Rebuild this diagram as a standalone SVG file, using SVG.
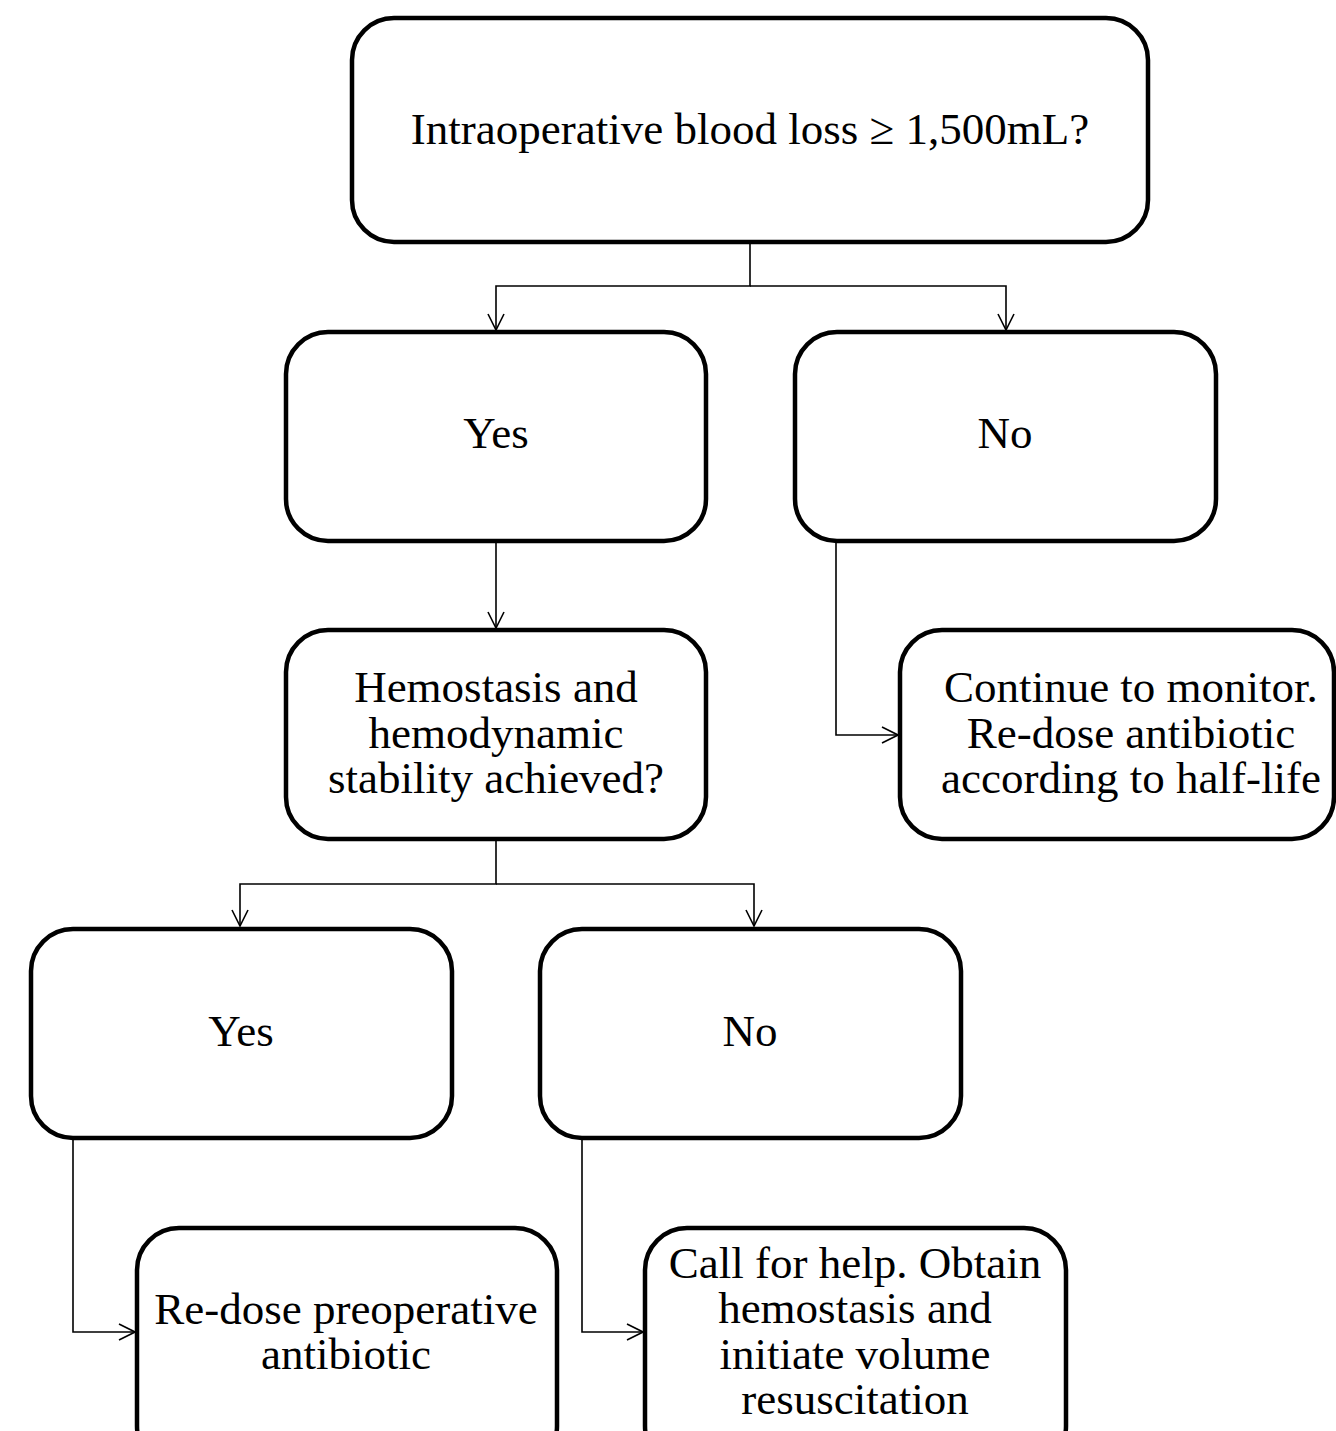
<svg xmlns="http://www.w3.org/2000/svg" width="1336" height="1431" viewBox="0 0 1336 1431">
<style>
.box{fill:#fff;stroke:#000;stroke-width:4.5}
.t{font-family:"Liberation Serif","Times New Roman",serif;font-size:45px;fill:#000;text-anchor:middle}
.c{fill:none;stroke:#000;stroke-width:1.6}
</style>
<defs>
<marker id="ah" viewBox="0 0 20 20" refX="19" refY="10" markerWidth="20" markerHeight="20" markerUnits="userSpaceOnUse" orient="auto">
<path d="M3,2 L19,10 L3,18" fill="none" stroke="#000" stroke-width="1.6"/>
</marker>
</defs>
<rect width="1336" height="1431" fill="#fff"/>
<g id="connectors">
<path class="c" d="M750,242 V286 H496 V330" marker-end="url(#ah)"/>
<path class="c" d="M750,286 H1006 V330" marker-end="url(#ah)"/>
<path class="c" d="M496,541 V628" marker-end="url(#ah)"/>
<path class="c" d="M836,541 V735 H898" marker-end="url(#ah)"/>
<path class="c" d="M496,839 V884 H240 V926" marker-end="url(#ah)"/>
<path class="c" d="M496,884 H754 V926" marker-end="url(#ah)"/>
<path class="c" d="M73,1138 V1332 H135" marker-end="url(#ah)"/>
<path class="c" d="M582,1138 V1332 H643" marker-end="url(#ah)"/>
</g>
<g id="n-top">
<rect class="box" x="352" y="18" width="796" height="224" rx="42"/>
<text class="t" x="750" y="144">Intraoperative blood loss ≥ 1,500mL?</text>
</g>
<g id="n-yes1">
<rect class="box" x="286" y="332" width="420" height="209" rx="42"/>
<text class="t" x="496" y="448">Yes</text>
</g>
<g id="n-no1">
<rect class="box" x="795" y="332" width="421" height="209" rx="42"/>
<text class="t" x="1005" y="448">No</text>
</g>
<g id="n-hemo">
<rect class="box" x="286" y="630" width="420" height="209" rx="42"/>
<text class="t" x="496" y="702">Hemostasis and</text>
<text class="t" x="496" y="748">hemodynamic</text>
<text class="t" x="496" y="793">stability achieved?</text>
</g>
<g id="n-continue">
<rect class="box" x="900" y="630" width="434" height="209" rx="42"/>
<text class="t" x="1131" y="702">Continue to monitor.</text>
<text class="t" x="1131" y="748">Re-dose antibiotic</text>
<text class="t" x="1131" y="793">according to half-life</text>
</g>
<g id="n-yes2">
<rect class="box" x="31" y="929" width="421" height="209" rx="42"/>
<text class="t" x="241" y="1046">Yes</text>
</g>
<g id="n-no2">
<rect class="box" x="540" y="929" width="421" height="209" rx="42"/>
<text class="t" x="750" y="1046">No</text>
</g>
<g id="n-redose">
<rect class="box" x="137" y="1228" width="420" height="240" rx="42"/>
<text class="t" x="346" y="1324">Re-dose preoperative</text>
<text class="t" x="346" y="1369">antibiotic</text>
</g>
<g id="n-call">
<rect class="box" x="645" y="1228" width="421" height="240" rx="42"/>
<text class="t" x="855" y="1278">Call for help. Obtain</text>
<text class="t" x="855" y="1323">hemostasis and</text>
<text class="t" x="855" y="1369">initiate volume</text>
<text class="t" x="855" y="1414">resuscitation</text>
</g>
</svg>
